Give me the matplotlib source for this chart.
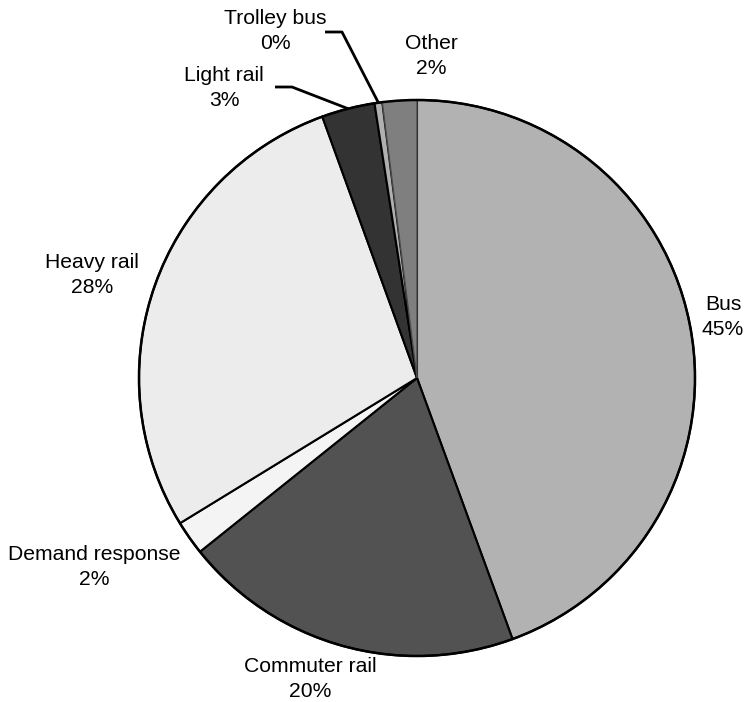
import matplotlib
matplotlib.use("Agg")
import matplotlib.pyplot as plt
import numpy as np

# Share of transit trips by mode (percent)
modes = ["Bus", "Commuter rail", "Demand response", "Heavy rail",
         "Light rail", "Trolley bus", "Other"]
shares = [44.55, 19.9, 2.0, 28.3, 3.1, 0.45, 2.0]
colors = ["#b2b2b2", "#525252", "#f4f4f4", "#ececec",
          "#333333", "#b0b0b0", "#7f7f7f"]

plt.rcParams["font.family"] = ["Liberation Sans", "DejaVu Sans"]

W, H = 746, 702
fig = plt.figure(figsize=(W / 100, H / 100), dpi=100)
ax = fig.add_axes([0, 0, 1, 1])
cx, cy, R = 417, 378, 278

wedges, _ = ax.pie(shares, colors=colors, startangle=90, counterclock=False,
                   radius=R, center=(0, 0),
                   wedgeprops=dict(edgecolor="black", linewidth=1.5))
wedges[-1].set_edgecolor("#4a4a4a")
wedges[-1].set_linewidth(1.0)
# redraw outer rim on top
rim = plt.Circle((0, 0), R, fill=False, edgecolor="black", linewidth=1.8)
ax.add_patch(rim)

ax.set_xlim(-cx, W - cx)
ax.set_ylim(-(H - cy), cy)
ax.set_aspect("equal")
ax.axis("off")

# label placement: (x, y) of the text block centre, optional leader elbow
label_pos = {
    "Bus": (306, 61),
    "Commuter rail": (-107, -301),
    "Demand response": (-323, -189),
    "Heavy rail": (-325, 103),
    "Light rail": (-193, 290),
    "Trolley bus": (-142, 347),
    "Other": (14, 322),
}
leaders = {
    "Light rail": ((-142, 291), (-125, 291)),
    "Trolley bus": ((-92, 346), (-75, 346)),
}

for w, name, val in zip(wedges, modes, shares):
    x, y = label_pos[name]
    ax.text(x, y, f"{name}\n{val:.0f}%", ha="center", va="center",
            fontsize=15.2, linespacing=1.38, color="black")
    if name in leaders:
        (x0, y0), (x1, y1) = leaders[name]
        mid = np.deg2rad((w.theta1 + w.theta2) / 2)
        ex, ey = R * np.cos(mid), R * np.sin(mid)
        ax.plot([x0, x1, ex], [y0, y1, ey], color="black", lw=2.0,
                solid_capstyle="butt", zorder=3)

fig.savefig("out.png", dpi=100)
